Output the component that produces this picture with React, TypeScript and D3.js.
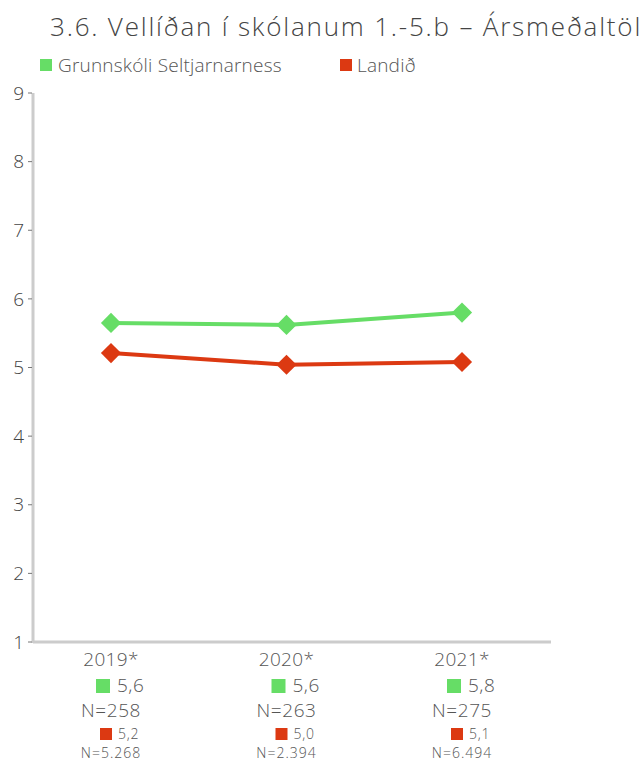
import React from "react";
import * as d3 from "d3";

const title = "3.6. Vellíðan í skólanum 1.-5.b – Ársmeðaltöl";
const years = ["2019*", "2020*", "2021*"];
const seriesNames = ["Grunnskóli Seltjarnarness", "Landið"];
const schoolValues = [5.65, 5.62, 5.8];
const countryValues = [5.21, 5.04, 5.08];
const schoolLabels = ["5,6", "5,6", "5,8"];
const schoolN = ["N=258", "N=263", "N=275"];
const countryLabels = ["5,2", "5,0", "5,1"];
const countryN = ["N=5.268", "N=2.394", "N=6.494"];
const yTicks = [1, 2, 3, 4, 5, 6, 7, 8, 9];

const GREEN = "#66dd66";
const RED = "#dc3912";
const FONT = "'Open Sans', Lato, sans-serif";

export default function App() {
  const W = 644, H = 762;
  const axisX = 33;
  const axisRight = 551;
  const y = d3.scaleLinear().domain([1, 9]).range([642, 93]);
  const x = d3.scalePoint<string>().domain(years).range([111, 462]);
  const line = d3.line<number>()
    .x((_, i) => x(years[i])!)
    .y((d) => y(d));
  const diamond = d3.symbol().type(d3.symbolDiamond2).size(260)();
  const series = [
    { vals: schoolValues, color: GREEN },
    { vals: countryValues, color: RED },
  ];
  return (
    <svg width={W} height={H} style={{ position: "absolute", left: 0, top: 0 }} fontFamily={FONT} fontWeight={300}>
      <text x={50} y={36} fontSize={26} letterSpacing={1.8} fill="#444">{title}</text>
      {/* legend */}
      <rect x={40} y={59} width={12} height={12} fill={GREEN} />
      <text x={58} y={72} fontSize={19} letterSpacing={0.2} fill="#555">{seriesNames[0]}</text>
      <rect x={340} y={59} width={12} height={12} fill={RED} />
      <text x={357} y={72} fontSize={19} letterSpacing={0.2} fill="#555">{seriesNames[1]}</text>
      {/* axes */}
      <line x1={axisX} x2={axisX} y1={y(9)} y2={y(1) + 1} stroke="#ccc" strokeWidth={3} />
      <line x1={axisX} x2={axisRight} y1={y(1)} y2={y(1)} stroke="#ccc" strokeWidth={3} />
      {yTicks.map((t) => (
        <g key={t}>
          <line x1={28} x2={32} y1={y(t)} y2={y(t)} stroke="#777" strokeWidth={1} />
          <text x={24} y={y(t)} dy="0.35em" textAnchor="end" fontSize={19} fill="#444">{t}</text>
        </g>
      ))}
      {/* lines */}
      {series.map((s, si) => (
        <g key={si}>
          <path d={line(s.vals)!} fill="none" stroke={s.color} strokeWidth={4} />
          {s.vals.map((v, i) => (
            <path key={i} d={diamond!} transform={`translate(${x(years[i])},${y(v)})`} fill={s.color} />
          ))}
        </g>
      ))}
      {/* category labels */}
      {years.map((yr, i) => {
        const cx = x(yr)!;
        return (
          <g key={yr}>
            <text x={cx} y={666} textAnchor="middle" fontSize={19} letterSpacing={0.3} fill="#555">{yr}</text>
            <rect x={cx - 15} y={679} width={14} height={14} fill={GREEN} />
            <text x={cx + 6} y={692} fontSize={19} letterSpacing={0.5} fill="#555">{schoolLabels[i]}</text>
            <text x={cx} y={717} textAnchor="middle" fontSize={19} letterSpacing={0.6} fill="#555">{schoolN[i]}</text>
            <rect x={cx - 11} y={728} width={12} height={12} fill={RED} />
            <text x={cx + 7} y={739} fontSize={14} letterSpacing={0.8} fill="#555">{countryLabels[i]}</text>
            <text x={cx} y={758} textAnchor="middle" fontSize={14} letterSpacing={1} fill="#555">{countryN[i]}</text>
          </g>
        );
      })}
    </svg>
  );
}
